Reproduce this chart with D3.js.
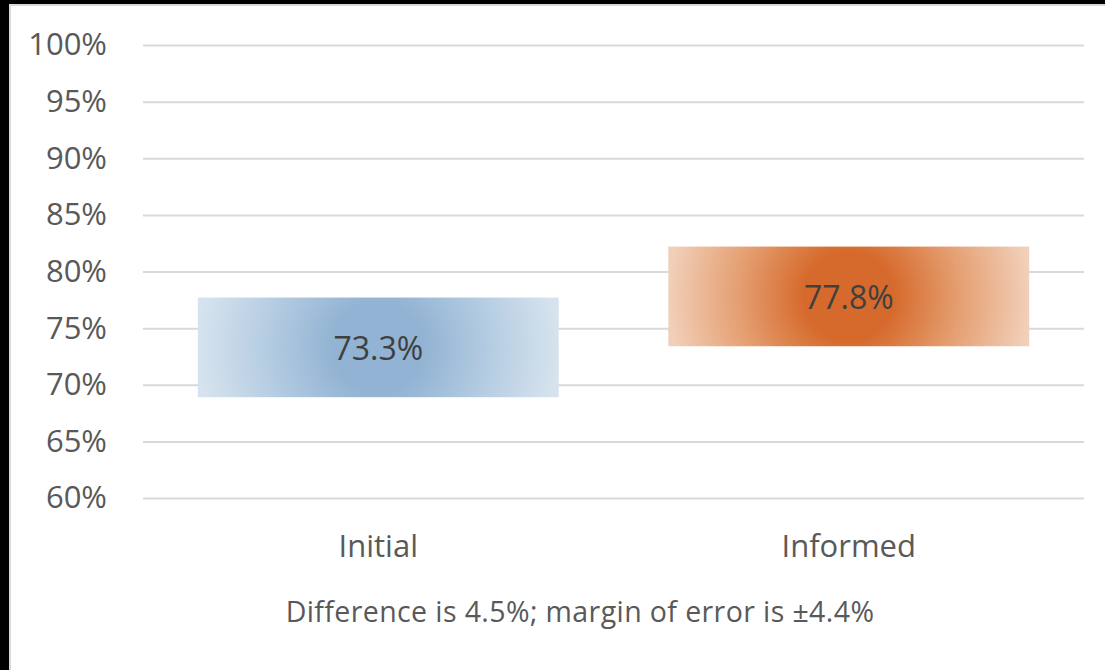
<!DOCTYPE html>
<html>
<head>
<meta charset="utf-8">
<script src="https://cdn.jsdelivr.net/npm/d3@7"></script>
<style>
  body { margin: 0; background: #fff; }
  text { font-family: "Open Sans", sans-serif; }
</style>
</head>
<body>
<script>
var categories = ["Initial", "Informed"];
var means = [73.3, 77.8];
var margins = [4.4, 4.4];
var yTicks = [60, 65, 70, 75, 80, 85, 90, 95, 100];
var note = "Difference is 4.5%; margin of error is \u00b14.4%";
var fills = [
  { inner: "#92b3d3", mid: "#b3cbe1", outer: "#d6e3ee" },
  { inner: "#d66a2c", mid: "#e49d6f", outer: "#f1cfb8" }
];

var W = 1105, H = 670;
var svg = d3.select("body").append("svg").attr("width", W).attr("height", H);

// frame: black edges and light chart border
svg.append("rect").attr("width", W).attr("height", H).attr("fill", "#fff");
svg.append("rect").attr("x", 0).attr("y", 0).attr("width", 9).attr("height", H).attr("fill", "#000");
svg.append("rect").attr("x", 0).attr("y", 0).attr("width", W).attr("height", 4).attr("fill", "#000");
svg.append("path").attr("d", "M10," + H + "V5H" + W)
  .attr("fill", "none").attr("stroke", "#d9d9d9").attr("stroke-width", 2);

var left = 143, right = 1084;
var y = d3.scaleLinear().domain([60, 100]).range([498, 45]);
var x = d3.scaleBand().domain(categories).range([left, right])
  .paddingInner(0.233).paddingOuter(0.1165);

var yAxis = svg.append("g").attr("transform", "translate(" + left + ",0)")
  .call(d3.axisLeft(y).tickValues(yTicks).tickSize(-(right - left)).tickPadding(36)
    .tickFormat(function(d) { return d + "%"; }));
yAxis.select(".domain").remove();
yAxis.selectAll(".tick line").attr("stroke", "#d9d9d9").attr("stroke-width", 2);
yAxis.selectAll(".tick text").attr("fill", "#595959").attr("font-size", 31)
  .attr("font-family", "Open Sans, sans-serif");

var defs = svg.append("defs");
categories.forEach(function(c, i) {
  var g = defs.append("radialGradient").attr("id", "grad" + i)
    .attr("gradientUnits", "userSpaceOnUse")
    .attr("cx", x(c) + x.bandwidth() / 2)
    .attr("cy", (y(means[i] + margins[i]) + y(means[i] - margins[i])) / 2)
    .attr("r", x.bandwidth() / 2);
  g.append("stop").attr("offset", 0).attr("stop-color", fills[i].inner);
  g.append("stop").attr("offset", 0.25).attr("stop-color", fills[i].inner);
  g.append("stop").attr("offset", 0.6).attr("stop-color", fills[i].mid);
  g.append("stop").attr("offset", 1).attr("stop-color", fills[i].outer);
});

svg.selectAll(".bar").data(categories).enter().append("rect")
  .attr("class", "bar")
  .attr("x", function(d) { return x(d); })
  .attr("width", x.bandwidth())
  .attr("y", function(d, i) { return y(means[i] + margins[i]); })
  .attr("height", function(d, i) { return y(means[i] - margins[i]) - y(means[i] + margins[i]); })
  .attr("fill", function(d, i) { return "url(#grad" + i + ")"; });

svg.selectAll(".val").data(categories).enter().append("text")
  .attr("class", "val")
  .attr("x", function(d) { return x(d) + x.bandwidth() / 2; })
  .attr("y", function(d, i) { return y(means[i]); })
  .attr("dy", "0.4em")
  .attr("text-anchor", "middle")
  .attr("fill", "#404040").attr("font-size", 32)
  .text(function(d, i) { return means[i].toFixed(1) + "%"; });

svg.selectAll(".cat").data(categories).enter().append("text")
  .attr("class", "cat")
  .attr("x", function(d) { return x(d) + x.bandwidth() / 2; })
  .attr("y", 557)
  .attr("text-anchor", "middle")
  .attr("fill", "#595959").attr("font-size", 31)
  .text(function(d) { return d; });

svg.append("text")
  .attr("x", 580).attr("y", 622)
  .attr("text-anchor", "middle")
  .attr("fill", "#595959").attr("font-size", 28.5)
  .attr("letter-spacing", 0.4)
  .text(note);
</script>
</body>
</html>
